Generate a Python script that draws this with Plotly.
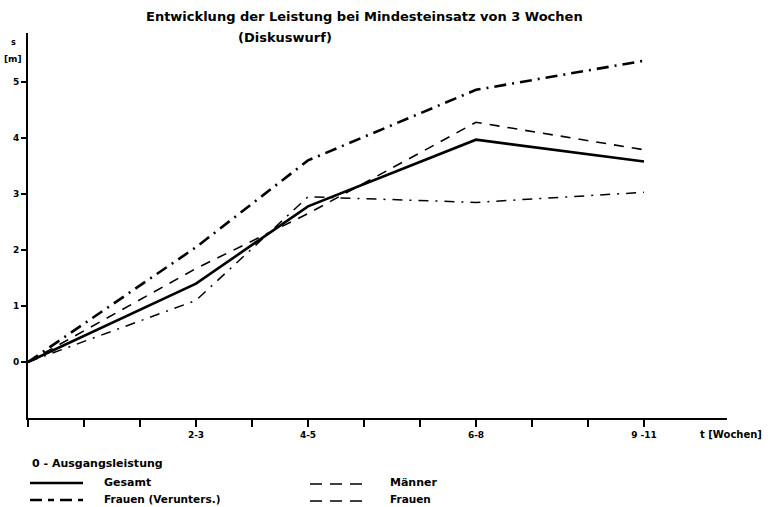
import plotly.graph_objects as go

# ---- data ----
x_pos = [0, 3, 5, 8, 11]
tick_vals = list(range(0, 12))
tick_text = ["", "", "", "2-3", "", "4-5", "", "", "6-8", "", "", "9 -11"]
y_ticks = [0, 1, 2, 3, 4, 5]

gesamt = [0, 1.40, 2.78, 3.97, 3.58]
frauen_verunters = [0, 2.05, 3.60, 4.86, 5.38]
maenner = [0, 1.67, 2.65, 4.28, 3.79]
frauen = [0, 1.10, 2.95, 2.85, 3.03]

W, H = 772, 507
L, R, T, B = 28, 45, 33, 89
pw, ph = W - L - R, H - T - B


def px(xp):
    return (xp - L) / pw


def py(yp):
    return (H - B - yp) / ph


FONT = "DejaVu Sans"
fig = go.Figure()

styles = [
    ("Gesamt", gesamt, dict(color="black", width=2.6, dash="solid")),
    ("Frauen (Verunters.)", frauen_verunters, dict(color="black", width=2.6, dash="12px,6px,2px,6px")),
    ("Männer", maenner, dict(color="black", width=1.6, dash="10px,8px")),
    ("Frauen", frauen, dict(color="black", width=1.5, dash="10px,7px,2px,7px")),
]
for name, vals, line in styles:
    fig.add_trace(go.Scatter(x=x_pos, y=vals, mode="lines", name=name, line=line,
                             showlegend=False))

fig.update_layout(
    width=W, height=H, autosize=False,
    margin=dict(l=L, r=R, t=T, b=B),
    paper_bgcolor="white", plot_bgcolor="white",
    font=dict(family=FONT, color="black", size=9, weight="bold"),
    xaxis=dict(range=[0, pw / 56], tickvals=tick_vals, ticktext=tick_text,
               showgrid=False, zeroline=False, showline=True, linecolor="black",
               linewidth=2, ticks="outside", ticklen=7, tickwidth=1.5,
               tickcolor="black", tickfont=dict(size=9, family=FONT, weight="bold")),
    yaxis=dict(range=[-1, -1 + ph / 56], tickvals=y_ticks,
               showgrid=False, zeroline=False, showline=True, linecolor="black",
               linewidth=2, ticks="outside", ticklen=5, tickwidth=1.5,
               tickcolor="black", tickfont=dict(size=9, family=FONT, weight="bold")),
)

def note(text, x, y, size=10, anchor="left"):
    fig.add_annotation(text=text, x=px(x), y=py(y), xref="paper", yref="paper",
                       showarrow=False, xanchor=anchor, yanchor="middle",
                       font=dict(size=size, family=FONT, weight="bold", color="black"))

note("Entwicklung der Leistung bei Mindesteinsatz von 3 Wochen", 364, 17, size=13, anchor="center")
note("(Diskuswurf)", 285, 37, size=13, anchor="center")
note("s", 13, 42, size=8, anchor="center")
note("[m]", 13, 59, size=9, anchor="center")
note("t [Wochen]", 698, 434, size=10)
note("0 - Ausgangsleistung", 30, 463, size=11)
note("Gesamt", 102, 482, size=11)
note("Frauen (Verunters.)", 102, 499, size=10.5)
note("Männer", 388, 482, size=11)
note("Frauen", 388, 499, size=10.5)

def sample(x0, x1, y, line):
    fig.add_shape(type="line", xref="paper", yref="paper",
                  x0=px(x0), x1=px(x1), y0=py(y), y1=py(y), line=line)

sample(30, 83, 483, styles[0][2])
sample(30, 83, 500, dict(color="black", width=2.6, dash="12px,6px,6px,6px"))
sample(310, 363, 484, dict(color="black", width=1.6, dash="12px,8px"))
sample(310, 363, 501, dict(color="black", width=1.6, dash="12px,8px"))

fig.write_html("out.html")
